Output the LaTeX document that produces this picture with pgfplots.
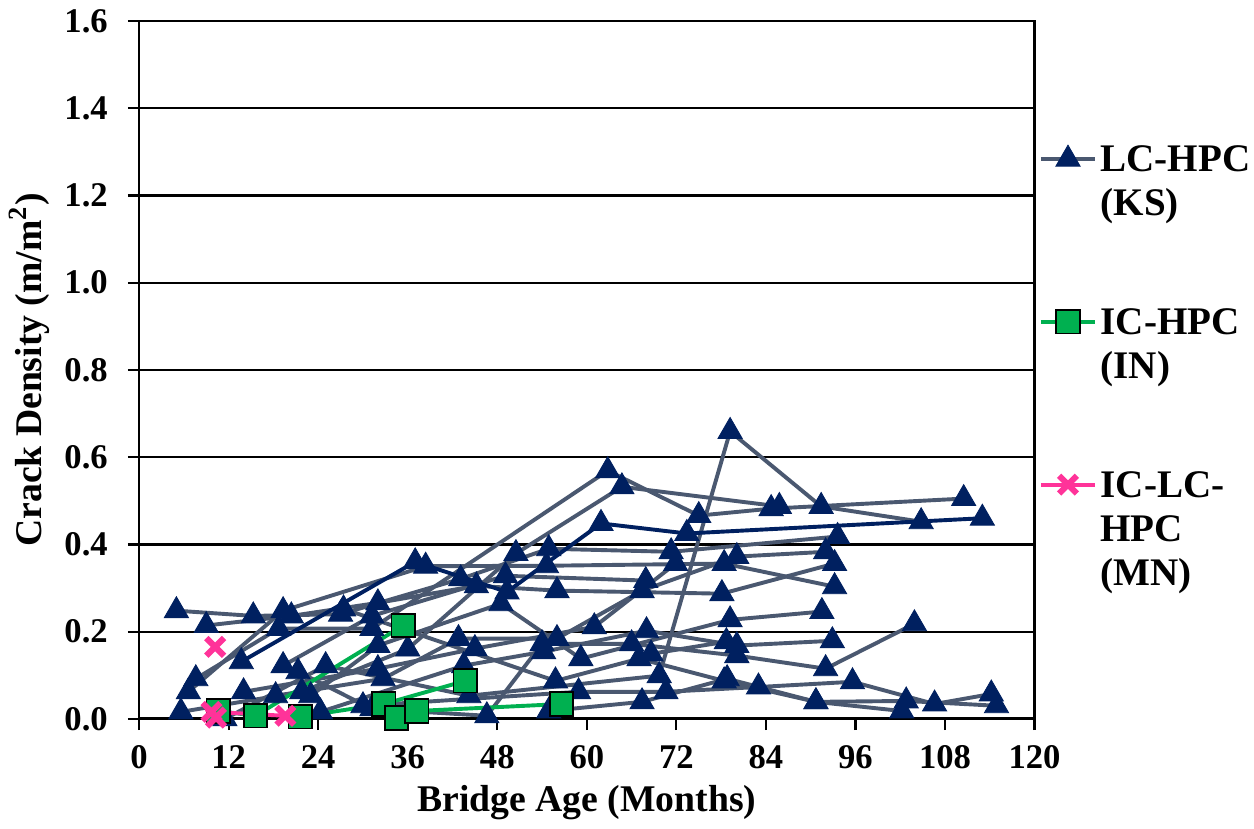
\documentclass[border=0pt]{standalone}
\usepackage{fontspec}
\setmainfont{Liberation Serif}
\usepackage{pgfplots}
\pgfplotsset{compat=1.18}
\definecolor{navy}{HTML}{002060}
\definecolor{slate}{HTML}{4A5870}
\definecolor{icgreen}{HTML}{00B050}
\definecolor{mnpink}{HTML}{FF3399}
\pgfplotsset{
 ks/.style={slate, line width=1.4pt, mark=triangle*, mark size=5pt, mark options={navy, fill=navy, line width=0.3pt, solid}},
 ksn/.style={navy, line width=1.4pt, mark=triangle*, mark size=5pt, mark options={navy, fill=navy, line width=0.3pt, solid}},
 inx/.style={icgreen, line width=1.4pt, mark=square*, mark size=4.2pt, mark options={fill=icgreen, draw=black, line width=0.6pt, solid}},
 mnx/.style={mnpink, line width=1.4pt, mark=x, mark size=4.5pt, mark options={mnpink, line width=2.2pt, solid}},
}
\newcommand{\legs}{\rule[-4.5pt]{0pt}{15.8pt}}
\newcommand{\legg}{\rule[-31.2pt]{0pt}{42.5pt}}
\begin{document}
\begin{tikzpicture}
\begin{axis}[
 scale only axis, width=320.8pt, height=250pt,
 xmin=0, xmax=120, ymin=0, ymax=1.6,
 xtick={0,12,24,36,48,60,72,84,96,108,120},
 ytick={0,0.2,0.4,0.6,0.8,1.0,1.2,1.4,1.6},
 ymajorgrids, major grid style={black, line width=0.8pt},
 axis line style={black, line width=1pt},
 tick style={black, line width=0.8pt},
 tick align=outside, xtick pos=bottom, ytick pos=left,
 major tick length=4pt,
 yticklabel style={/pgf/number format/fixed, /pgf/number format/fixed zerofill, /pgf/number format/precision=1, xshift=-3.7pt},
 xticklabel style={yshift=-2pt},
 /pgf/number format/assume math mode=true,
 ticklabel style={font=\bfseries\fontsize{12.4}{14}\selectfont},
 xlabel={Bridge Age (Months)}, ylabel={Crack Density (m/m\textsuperscript{2})},
 label style={font=\bfseries\fontsize{13.5}{15}\selectfont},
 xlabel style={yshift=1pt},
 ylabel style={yshift=-1.5pt},
 clip=false,
 legend style={at={(1.0,0.83)}, xshift=1.4pt, anchor=north west, draw=none, fill=none, inner sep=0pt, row sep=0pt,
   cells={anchor=base west}, font=\bfseries\fontsize{14}{15}\selectfont,
   nodes={inner xsep=1.3pt, inner ysep=0pt, text depth=}},
 legend image code/.code={\draw[mark repeat=2,mark phase=2,#1] plot coordinates {(0cm,4.5pt)(0.34cm,4.5pt)(0.68cm,4.5pt)};},
]
% LC-HPC (KS)
\addplot[ks, forget plot] coordinates {(5,0.248)(15.3,0.236)(27,0.24)(43.1,0.321)(54.9,0.39)(71.3,0.383)(93.6,0.418)};
\addplot[ks, forget plot] coordinates {(9,0.214)(20.4,0.236)(32,0.266)(45.2,0.305)(56,0.294)(78.1,0.287)(93.2,0.356)};
\addplot[ks, forget plot] coordinates {(7.6,0.092)(18.7,0.207)(31.2,0.207)(62.8,0.569)(75,0.466)(84.7,0.482)(110.5,0.505)};
\addplot[ks, forget plot] coordinates {(6.6,0.062)(19.3,0.248)(38.4,0.35)(54.6,0.351)(78.4,0.356)(93.2,0.303)};
\addplot[ks, forget plot] coordinates {(5.6,0.016)(21.8,0.062)(36,0.16)(50.5,0.379)(64.7,0.532)(85.8,0.487)};
\addplot[ks, forget plot] coordinates {(11.5,0.0)(25,0.122)(44.2,0.053)(69.7,0.099)(79.2,0.659)(91.4,0.487)(104.8,0.452)};
\addplot[ks, forget plot] coordinates {(14,0.062)(32,0.115)(45,0.161)(61,0.211)(71.9,0.356)};
\addplot[ks, forget plot] coordinates {(18.3,0.053)(32.7,0.092)(42.8,0.184)(56,0.184)(67.4,0.294)(80.1,0.372)(92,0.383)};
\addplot[ks, forget plot] coordinates {(23,0.053)(32,0.168)(48.5,0.264)(59.2,0.138)(79.2,0.227)(91.5,0.246)};
\addplot[ks, forget plot] coordinates {(21.3,0.108)(31.2,0.023)(46.6,0.007)(54,0.172)(66,0.172)(80.1,0.145)(92,0.115)(103.9,0.218)};
\addplot[ks, forget plot] coordinates {(24.3,0.016)(43.5,0.122)(54.2,0.154)(68,0.202)(80.1,0.168)(92.9,0.179)};
\addplot[ks, forget plot] coordinates {(19.3,0.122)(31.2,0.236)(49.1,0.328)(67.9,0.317)};
\addplot[ks, forget plot] coordinates {(27.4,0.252)(55.8,0.087)(67,0.138)(78.4,0.087)(90.7,0.039)(102.2,0.018)};
\addplot[ks, forget plot] coordinates {(30,0.03)(58.9,0.062)(70.6,0.062)(83,0.073)(95.6,0.085)(106.6,0.034)(114.2,0.057)};
\addplot[ks, forget plot] coordinates {(54.9,0.018)(67.4,0.039)(78.8,0.092)(90.7,0.039)(102.8,0.041)(114.9,0.03)};
\addplot[ks, forget plot] coordinates {(68.6,0.149)(78.7,0.177)};
\addplot[ksn, forget plot] coordinates {(13.7,0.131)(37,0.36)(49.3,0.291)(61.9,0.448)(73.4,0.425)(113,0.46)};
% IC-HPC (IN)
\addplot[inx, forget plot] coordinates {(10.6,0.018)(15.6,0.007)(35.4,0.214)};
\addplot[inx, forget plot] coordinates {(21.6,0.005)(32.8,0.034)(43.7,0.087)};
\addplot[inx, forget plot] coordinates {(34.5,0.002)(37.2,0.018)(56.6,0.034)};
% IC-LC-HPC (MN)
\addplot[mnx, forget plot] coordinates {(9.7,0.016)(19.6,0.007)};
\addplot[mnx, forget plot] coordinates {(10.2,0.165)};
\addplot[mnx, forget plot] coordinates {(10.3,0.003)};
% legend
\addlegendimage{ks}
\addlegendentry{LC-HPC\legs}
\addlegendimage{empty legend}
\addlegendentry{(KS)\legg}
\addlegendimage{inx}
\addlegendentry{IC-HPC\legs}
\addlegendimage{empty legend}
\addlegendentry{(IN)\legg}
\addlegendimage{mnx}
\addlegendentry{IC-LC-\legs}
\addlegendimage{empty legend}
\addlegendentry{HPC\legs}
\addlegendimage{empty legend}
\addlegendentry{(MN)\legs}
\end{axis}
\end{tikzpicture}
\end{document}
